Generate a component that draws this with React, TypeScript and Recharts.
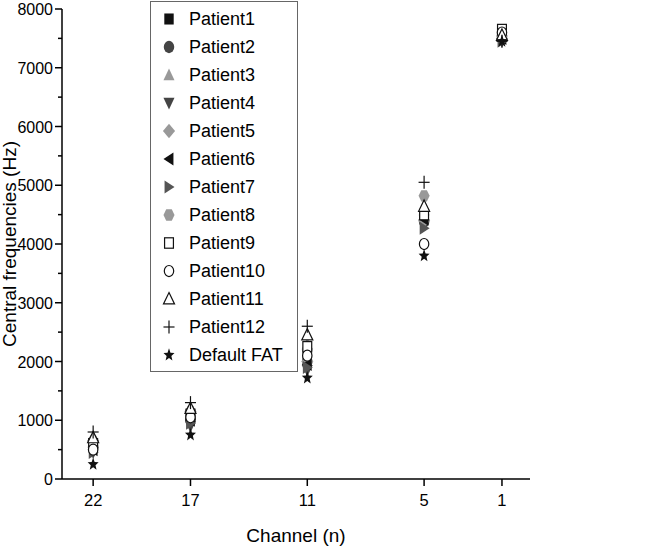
import React from 'react'
import { ScatterChart, Scatter, XAxis, YAxis, Legend, Label } from 'recharts'

const channels = [22, 17, 11, 5, 1]

const patient1 = [600, 1100, 2100, 4450, 7550]
const patient2 = [550, 1000, 2000, 4380, 7500]
const patient3 = [700, 1200, 2300, 4580, 7550]
const patient4 = [450, 900, 1850, 4330, 7450]
const patient5 = [650, 1150, 2000, 4400, 7500]
const patient6 = [500, 1000, 1950, 4420, 7500]
const patient7 = [450, 950, 1900, 4270, 7450]
const patient8 = [650, 1150, 2200, 4820, 7550]
const patient9 = [600, 1100, 2250, 4500, 7650]
const patient10 = [500, 1050, 2100, 4000, 7600]
const patient11 = [700, 1200, 2450, 4640, 7550]
const patient12 = [800, 1300, 2600, 5050, 7450]
const defaultFat = [250, 750, 1720, 3800, 7450]

const yTicks = [0, 500, 1000, 1500, 2000, 2500, 3000, 3500, 4000, 4500, 5000, 5500, 6000, 6500, 7000, 7500, 8000]

const FONT = '"Liberation Sans", Arial, sans-serif'

type Kind =
  | 'square' | 'circle' | 'up' | 'down' | 'diamond' | 'left' | 'right'
  | 'hexagon' | 'openSquare' | 'openCircle' | 'openUp' | 'plus' | 'star'

const series: { name: string; values: number[]; kind: Kind; color: string }[] = [
  { name: 'Patient1', values: patient1, kind: 'square', color: '#111' },
  { name: 'Patient2', values: patient2, kind: 'circle', color: '#444' },
  { name: 'Patient3', values: patient3, kind: 'up', color: '#999' },
  { name: 'Patient4', values: patient4, kind: 'down', color: '#444' },
  { name: 'Patient5', values: patient5, kind: 'diamond', color: '#999' },
  { name: 'Patient6', values: patient6, kind: 'left', color: '#111' },
  { name: 'Patient7', values: patient7, kind: 'right', color: '#555' },
  { name: 'Patient8', values: patient8, kind: 'hexagon', color: '#999' },
  { name: 'Patient9', values: patient9, kind: 'openSquare', color: '#111' },
  { name: 'Patient10', values: patient10, kind: 'openCircle', color: '#111' },
  { name: 'Patient11', values: patient11, kind: 'openUp', color: '#111' },
  { name: 'Patient12', values: patient12, kind: 'plus', color: '#111' },
  { name: 'Default FAT', values: defaultFat, kind: 'star', color: '#111' },
]

function pts(list: number[][]) {
  return list.map(p => p.join(',')).join(' ')
}

// markers are a bit narrower than tall, like the reference
function Marker({ kind, cx, cy, color, s = 6.5 }: { kind: Kind; cx: number; cy: number; color: string; s?: number }) {
  const w = s * 0.85
  switch (kind) {
    case 'square':
      return <rect x={cx - w * 0.85} y={cy - s * 0.85} width={w * 1.7} height={s * 1.7} fill={color} />
    case 'circle':
      return <ellipse cx={cx} cy={cy} rx={w * 0.95} ry={s * 0.95} fill={color} />
    case 'up':
      return <polygon points={pts([[cx, cy - s], [cx + w, cy + s * 0.8], [cx - w, cy + s * 0.8]])} fill={color} />
    case 'down':
      return <polygon points={pts([[cx, cy + s], [cx + w, cy - s * 0.8], [cx - w, cy - s * 0.8]])} fill={color} />
    case 'left':
      return <polygon points={pts([[cx - w, cy], [cx + w * 0.8, cy - s], [cx + w * 0.8, cy + s]])} fill={color} />
    case 'right':
      return <polygon points={pts([[cx + w, cy], [cx - w * 0.8, cy - s], [cx - w * 0.8, cy + s]])} fill={color} />
    case 'diamond':
      return <polygon points={pts([[cx, cy - s * 1.1], [cx + w * 1.1, cy], [cx, cy + s * 1.1], [cx - w * 1.1, cy]])} fill={color} />
    case 'hexagon': {
      const h = []
      for (let i = 0; i < 6; i++) {
        const a = (Math.PI / 3) * i
        h.push([cx + w * Math.cos(a), cy + s * Math.sin(a)])
      }
      return <polygon points={pts(h)} fill={color} />
    }
    case 'openSquare':
      return <rect x={cx - w * 0.8} y={cy - s * 0.8} width={w * 1.6} height={s * 1.6} fill="#fff" stroke={color} strokeWidth={1.2} />
    case 'openCircle':
      return <ellipse cx={cx} cy={cy} rx={w * 0.85} ry={s * 0.85} fill="#fff" stroke={color} strokeWidth={1.2} />
    case 'openUp':
      return <polygon points={pts([[cx, cy - s], [cx + w, cy + s * 0.75], [cx - w, cy + s * 0.75]])} fill="#fff" stroke={color} strokeWidth={1.2} />
    case 'plus':
      return (
        <g stroke={color} strokeWidth={1.2}>
          <line x1={cx - w} y1={cy} x2={cx + w} y2={cy} />
          <line x1={cx} y1={cy - s} x2={cx} y2={cy + s} />
        </g>
      )
    case 'star': {
      const st = []
      for (let i = 0; i < 10; i++) {
        const r = i % 2 === 0 ? 1.05 : 0.45
        const a = -Math.PI / 2 + (Math.PI / 5) * i
        st.push([cx + w * r * Math.cos(a), cy + s * r * Math.sin(a)])
      }
      return <polygon points={pts(st)} fill={color} />
    }
  }
  return null
}

function YTick(props: any) {
  const { x, y, payload } = props
  const major = payload.value % 1000 === 0
  const axisX = x + 8
  return (
    <g>
      <line x1={axisX - (major ? 7 : 4)} y1={y} x2={axisX} y2={y} stroke="#000" strokeWidth={1.5} />
      {major && (
        <text x={axisX - 9} y={y} dy={6} textAnchor="end" fontSize={16} fontFamily={FONT} fill="#000">
          {payload.value}
        </text>
      )}
    </g>
  )
}

function LegendBox() {
  return (
    <div
      style={{
        border: '1px solid #666',
        background: '#fff',
        width: 146,
        padding: '3px 0 2px 0',
        fontFamily: FONT,
        fontSize: 18,
      }}
    >
      {series.map(s => (
        <div key={s.name} style={{ display: 'flex', alignItems: 'center', height: 28 }}>
          <svg width={38} height={22} style={{ flex: 'none' }}>
            <Marker kind={s.kind} cx={18} cy={11} color={s.color} />
          </svg>
          <span style={{ color: '#000' }}>{s.name}</span>
        </div>
      ))}
    </div>
  )
}

export default function App() {
  return (
    <div style={{ position: 'absolute', left: 0, top: 0, background: '#fff' }}>
      <ScatterChart width={645} height={550} margin={{ top: 9, right: 115, bottom: 4, left: 12 }}>
        <XAxis
          type="number"
          dataKey="x"
          domain={[-0.44, 23.6]}
          reversed
          ticks={channels}
          allowDataOverflow
          stroke="#000"
          strokeWidth={1.5}
          height={67}
          tick={{ fill: '#000', fontSize: 16.5, fontFamily: FONT, dy: 6 }}
          tickSize={7}
        >
          <Label value="Channel (n)" position="insideBottom" offset={4} style={{ fontSize: 19, fontFamily: FONT, fill: '#000' }} />
        </XAxis>
        <YAxis
          type="number"
          dataKey="y"
          domain={[0, 8000]}
          ticks={yTicks}
          interval={0}
          stroke="#000"
          strokeWidth={1.5}
          width={50}
          tickLine={false}
          tick={<YTick />}
        >
          <Label
            value="Central frequencies (Hz)"
            angle={-90}
            position="insideLeft"
            offset={-3}
            style={{ fontSize: 19, fontFamily: FONT, fill: '#000', textAnchor: 'middle' }}
          />
        </YAxis>
        <Legend
          layout="vertical"
          align="center"
          verticalAlign="middle"
          content={() => <LegendBox />}
          wrapperStyle={{ position: 'absolute', left: 150, top: 1, width: 148 }}
        />
        {series.map(s => (
          <Scatter
            key={s.name}
            name={s.name}
            data={channels.map((c, i) => ({ x: c, y: s.values[i] }))}
            isAnimationActive={false}
            shape={(p: any) => <Marker kind={s.kind} cx={p.cx} cy={p.cy} color={s.color} />}
          />
        ))}
      </ScatterChart>
    </div>
  )
}
